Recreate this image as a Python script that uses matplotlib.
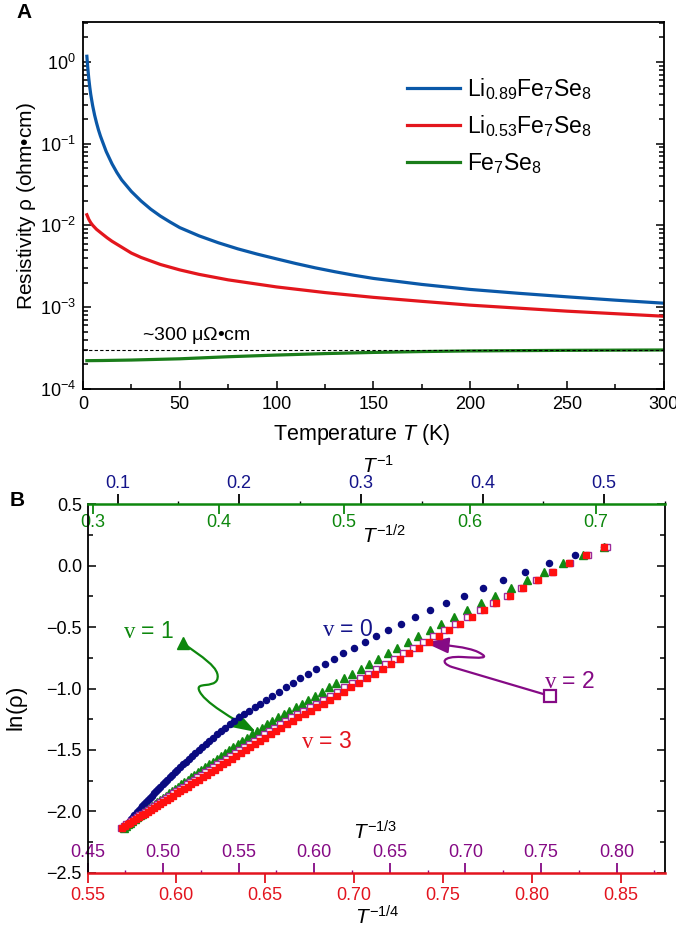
import numpy as np
import matplotlib
matplotlib.use("Agg")
import matplotlib.pyplot as plt
from matplotlib.path import Path
from matplotlib.patches import FancyArrowPatch
from matplotlib.lines import Line2D
from matplotlib.ticker import MultipleLocator, LogLocator, NullFormatter

plt.rcParams["font.family"] = ["Liberation Sans", "DejaVu Sans"]
plt.rcParams["mathtext.fontset"] = "custom"
plt.rcParams["mathtext.rm"] = "Liberation Serif"
plt.rcParams["mathtext.it"] = "Liberation Sans:italic"
plt.rcParams["mathtext.sf"] = "Liberation Sans"

# ---------------- panel A: rho(T) ----------------
t_li089 = [2, 2.5, 3, 3.5, 4, 4.5, 5, 6, 7, 8, 9, 10, 12, 15, 17.5, 20, 25, 30, 35, 40,
           45, 50, 60, 70, 80, 90, 100, 110, 120, 130, 140, 150, 175, 200, 225, 250,
           275, 300]
rho_li089 = [1.17, 0.83, 0.62, 0.49, 0.40, 0.34, 0.29, 0.223, 0.179, 0.147, 0.124,
             0.107, 0.080, 0.0566, 0.0444, 0.036, 0.0260, 0.0199, 0.0158, 0.0130,
             0.0110, 0.0094, 0.00745, 0.00613, 0.00517, 0.00446, 0.0039, 0.00342,
             0.00303, 0.00272, 0.00246, 0.00225, 0.00190, 0.00165, 0.00148, 0.00134,
             0.00122, 0.00112]

t_li053 = [2, 3, 4, 5, 7, 10, 12.5, 15, 20, 25, 30, 40, 50, 60, 75, 100, 125, 150,
           175, 200, 250, 300]
rho_li053 = [0.0135, 0.01186, 0.0108, 0.01005, 0.00895, 0.00785, 0.00705, 0.0064,
             0.00542, 0.00459, 0.00406, 0.00333, 0.00286, 0.00252, 0.00216, 0.00177,
             0.00151, 0.00132, 0.00118, 0.00106, 0.000895, 0.000776]

t_fe7se8 = [2, 10, 25, 50, 75, 100, 125, 150, 175, 200, 250, 300]
rho_fe7se8 = [0.000222, 0.000223, 0.000226, 0.000234, 0.000248, 0.000260, 0.000271,
              0.000280, 0.000287, 0.000292, 0.000297, 0.000300]

rho_ref = 3.0e-4   # dashed ~300 uOhm cm guide

# ---------------- panel B: ln(rho) vs T^-p ----------------
temp_b = [2.0, 2.1, 2.2, 2.3, 2.4, 2.5, 2.6, 2.7, 2.8, 2.9,
          3.0, 3.1, 3.2, 3.3, 3.4, 3.5, 3.6, 3.7, 3.8, 3.9,
          4.0, 4.1, 4.2, 4.3, 4.4, 4.5, 4.6, 4.7, 4.8, 4.9,
          5.0, 5.1, 5.2, 5.3, 5.4, 5.5, 5.6, 5.7, 5.8, 5.9,
          6.0, 6.1, 6.2, 6.3, 6.4, 6.5, 6.6, 6.7, 6.8, 6.9,
          7.0, 7.1, 7.2, 7.3, 7.4, 7.5, 7.6, 7.7, 7.8, 7.9,
          8.0, 8.1, 8.2, 8.3, 8.4, 8.5, 8.6, 8.7, 8.8, 8.9,
          9.0, 9.1, 9.2, 9.3, 9.4, 9.5]
ln_rho_b = [0.154, 0.087, 0.018, -0.052, -0.120, -0.185, -0.247, -0.305, -0.363, -0.420,
            -0.475, -0.526, -0.574, -0.621, -0.668, -0.713, -0.757, -0.799, -0.840, -0.880,
            -0.918, -0.955, -0.991, -1.027, -1.061, -1.094, -1.125, -1.154, -1.182, -1.208,
            -1.234, -1.262, -1.291, -1.319, -1.347, -1.374, -1.400, -1.427, -1.452, -1.477,
            -1.502, -1.526, -1.550, -1.573, -1.596, -1.618, -1.640, -1.662, -1.682, -1.702,
            -1.722, -1.743, -1.762, -1.781, -1.800, -1.818, -1.836, -1.854, -1.872, -1.889,
            -1.906, -1.923, -1.940, -1.956, -1.972, -1.988, -2.004, -2.019, -2.034, -2.049,
            -2.064, -2.078, -2.093, -2.107, -2.121, -2.135]

ticks_inv1 = [0.1, 0.2, 0.3, 0.4, 0.5]
ticks_inv2 = [0.3, 0.4, 0.5, 0.6, 0.7]
ticks_inv3 = [0.45, 0.50, 0.55, 0.60, 0.65, 0.70, 0.75, 0.80]
ticks_inv4 = [0.55, 0.60, 0.65, 0.70, 0.75, 0.80, 0.85]

C_NAVY = "#14148a"
C_GREEN = "#0d870d"
C_PURPLE = "#850a85"
C_RED = "#ff1010"
C_RED_AX = "#e3141e"

W, H = 676, 930
fig = plt.figure(figsize=(W / 100, H / 100), dpi=100)


def fpt(x, y):
    """image pixel -> figure fraction"""
    return x / W, 1 - y / H


def ax_rect(l, t, r, b):
    return [l / W, 1 - b / H, (r - l) / W, (b - t) / H]


# ================= panel A =================
axA = fig.add_axes(ax_rect(83, 22, 663.6, 389))
axA.plot(t_li089, rho_li089, color="#0a58a8", lw=2.3, label=r"Li$_{\mathsf{0.89}}$Fe$_{\mathsf{7}}$Se$_{\mathsf{8}}$")
axA.plot(t_li053, rho_li053, color="#e3161d", lw=2.3, label=r"Li$_{\mathsf{0.53}}$Fe$_{\mathsf{7}}$Se$_{\mathsf{8}}$")
axA.plot(t_fe7se8, rho_fe7se8, color="#1a7d1a", lw=2.3, label=r"Fe$_{\mathsf{7}}$Se$_{\mathsf{8}}$")
axA.axhline(rho_ref, color="black", lw=0.8, ls=(0, (3, 2)))
axA.set_yscale("log")
axA.set_xlim(0, 300)
axA.set_ylim(1e-4, 3.07)
axA.xaxis.set_major_locator(MultipleLocator(50))
axA.xaxis.set_minor_locator(MultipleLocator(25))
axA.yaxis.set_major_locator(LogLocator(base=10, numticks=10))
axA.yaxis.set_minor_locator(LogLocator(base=10, subs=np.arange(2, 10), numticks=20))
axA.yaxis.set_minor_formatter(NullFormatter())
axA.tick_params(which="both", direction="in", top=False, right=True, labelsize=13, width=1.1)
axA.tick_params(which="major", length=6, pad=5)
axA.tick_params(which="minor", length=3.5)
for s in axA.spines.values():
    s.set_linewidth(1.3)
axA.legend(loc="upper left", bbox_to_anchor=fpt(407, 76), bbox_transform=fig.transFigure,
           frameon=False, fontsize=16.5, handlelength=2.3, handletextpad=0.3,
           labelspacing=0.5, borderpad=0, borderaxespad=0)
axA.text(*fpt(142, 335), r"~300 $\mathsf{\mu\Omega}$•cm", transform=fig.transFigure,
         fontsize=14, ha="left", va="center")

fig.text(*fpt(24, 13), "A", fontsize=15, fontweight="bold", ha="center", va="center")
fig.text(*fpt(27, 206), r"Resistivity $\mathsf{\rho}$ (ohm•cm)", rotation=90,
         fontsize=15, ha="center", va="center")
fig.text(*fpt(362, 434), r"Temperature $T$ (K)", fontsize=15.5, ha="center", va="center")

# ================= panel B =================
T = np.array(temp_b)
lnr = np.array(ln_rho_b)

axB = fig.add_axes(ax_rect(87.5, 504.3, 665, 872.7))
ax_inv1 = axB.twiny()
ax_inv2 = axB.twiny()
ax_inv3 = axB.twiny()
for z, a in enumerate([ax_inv1, ax_inv2, ax_inv3, axB]):
    a.set_zorder(z + 1)
axB.patch.set_visible(False)

ax_inv1.plot(T ** -1.0, lnr, "o", ms=4.4, color="#0a0a80", mec="#0a0a80", ls="none")
ax_inv2.plot(T ** -0.5, lnr, "^", ms=5.2, color="#128a12", mec="#128a12", ls="none")
ax_inv3.plot(T ** (-1 / 3), lnr, "s", ms=4.3, mfc="white", mec="#9b2b9b", mew=1.0, ls="none")
axB.plot(T ** -0.25, lnr, "s", ms=4.3, color=C_RED, mec=C_RED, ls="none")

axB.set_ylim(-2.5, 0.5)
axB.set_xlim(0.55, 0.875)
ax_inv1.set_xlim(0.0753, 0.550)
ax_inv2.set_xlim(0.2957, 0.7553)
ax_inv3.set_xlim(0.45, 0.832)

axB.set_xticks(ticks_inv4)
ax_inv1.set_xticks(ticks_inv1)
ax_inv2.set_xticks(ticks_inv2)
ax_inv3.set_xticks(ticks_inv3)
ax_inv1.xaxis.set_minor_locator(MultipleLocator(0.05))
ax_inv3.xaxis.set_minor_locator(MultipleLocator(0.025))

axB.yaxis.set_major_locator(MultipleLocator(0.5))
axB.yaxis.set_minor_locator(MultipleLocator(0.25))
axB.tick_params(axis="y", which="both", direction="in", left=True, right=True,
                labelsize=13, width=1.1, pad=4)
axB.tick_params(axis="y", which="major", length=6)
axB.tick_params(axis="y", which="minor", length=3.5)
axB.tick_params(axis="x", which="major", direction="out", length=7, width=1.3,
                colors=C_RED_AX, labelsize=13, pad=3)

ax_inv3.xaxis.set_ticks_position("bottom")
ax_inv3.tick_params(axis="x", which="major", direction="in", length=7.5, width=1.3,
                    colors=C_PURPLE, labelsize=13, pad=-21)
ax_inv3.tick_params(axis="x", which="minor", direction="in", length=2, width=1.0,
                    colors=C_PURPLE)

ax_inv1.xaxis.set_ticks_position("top")
ax_inv1.tick_params(axis="x", which="major", direction="out", length=7.5, width=1.3,
                    color="black", labelcolor=C_NAVY, labelsize=13, pad=1.5)
ax_inv1.tick_params(axis="x", which="minor", direction="out", length=2, width=1.0,
                    color="black")

ax_inv2.xaxis.set_ticks_position("top")
ax_inv2.tick_params(axis="x", which="major", direction="in", length=7, width=1.3,
                    colors=C_GREEN, labelsize=13, pad=-19)

for a in (ax_inv1, ax_inv2, ax_inv3):
    for s in a.spines.values():
        s.set_visible(False)
    a.yaxis.set_visible(False)
for side in ("left", "right"):
    axB.spines[side].set_linewidth(1.3)
axB.spines["top"].set_color(C_GREEN)
axB.spines["top"].set_linewidth(1.8)
axB.spines["bottom"].set_color(C_RED_AX)
axB.spines["bottom"].set_linewidth(1.8)

fig.text(*fpt(17, 500), "B", fontsize=15, fontweight="bold", ha="center", va="center")
fig.text(*fpt(18, 709), r"ln($\mathsf{\rho}$)", rotation=90, fontsize=16,
         ha="center", va="center")
fig.text(*fpt(362, 466), r"$T^{\mathsf{-1}}$", fontsize=15, ha="left", va="center")
fig.text(*fpt(362, 536), r"$T^{\mathsf{-1/2}}$", fontsize=15, ha="left", va="center")
fig.text(*fpt(353, 832), r"$T^{\mathsf{-1/3}}$", fontsize=15, ha="left", va="center")
fig.text(*fpt(355, 917), r"$T^{\mathsf{-1/4}}$", fontsize=15, ha="left", va="center")

# v labels
fig.text(*fpt(348, 630), r"$\mathrm{v}$ = 0", color=C_NAVY, fontsize=16.5, ha="center", va="center")
fig.text(*fpt(149, 632), r"$\mathrm{v}$ = 1", color=C_GREEN, fontsize=16.5, ha="center", va="center")
fig.text(*fpt(570, 682), r"$\mathrm{v}$ = 2", color=C_PURPLE, fontsize=16.5, ha="center", va="center")
fig.text(*fpt(327, 741), r"$\mathrm{v}$ = 3", color=C_RED_AX, fontsize=16.5, ha="center", va="center")

# curly arrows
C4 = Path.CURVE4
green_pts = [(183, 643), (200, 656), (222, 668), (217, 680), (213, 688), (196, 682),
             (199, 690), (203, 702), (235, 720), (256, 732)]
green_codes = [Path.MOVETO] + [C4] * 9
purple_pts = [(550, 696), (452, 667), (440, 663), (442, 656), (462, 657), (480, 658),
              (492, 659), (478, 652), (468, 647), (445, 645), (425, 642.7)]
purple_codes = [Path.MOVETO, Path.LINETO] + [C4] * 9

for pts, codes, col in ((green_pts, green_codes, C_GREEN), (purple_pts, purple_codes, C_PURPLE)):
    arr = FancyArrowPatch(path=Path([fpt(x, y) for x, y in pts], codes),
                          arrowstyle="-|>,head_length=0.9,head_width=0.3",
                          mutation_scale=16, color=col, lw=1.6,
                          transform=fig.transFigure)
    fig.add_artist(arr)

fig.add_artist(Line2D([183 / W], [1 - 643 / H], marker="^", ms=8, color=C_GREEN,
                      transform=fig.transFigure))
fig.add_artist(Line2D([550 / W], [1 - 696 / H], marker="s", ms=8, mfc="white",
                      mec=C_PURPLE, mew=1.6, transform=fig.transFigure))

fig.savefig("out.png", dpi=100, facecolor="white")
